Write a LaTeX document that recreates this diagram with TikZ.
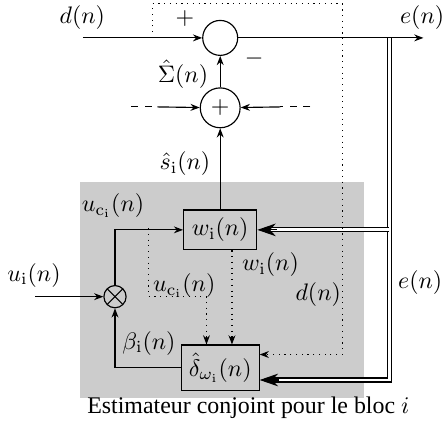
\RequirePackage{fix-cm}
\documentclass[tikz,border=0pt]{standalone}
\usepackage[no-math]{fontspec}
\setmainfont{Liberation Serif}
\usepackage{amsmath,amssymb}
\usepackage{xcolor}
\usepackage{tikz}
\usetikzlibrary{arrows.meta,positioning}
\definecolor{panel}{RGB}{204,204,204}

\begin{document}
\begin{tikzpicture}[
  line width=0.5pt,
  every node/.style={font=\fontsize{10.4}{12.5}\selectfont},
  sumnode/.style={draw,circle,inner sep=0pt},
  blockbox/.style={draw,minimum width=1.12cm,minimum height=0.61cm,inner sep=1pt},
  arr/.style={-{Stealth[length=4pt,width=3pt]}},
  dotarr/.style={dotted,-{Stealth[length=4pt,width=3pt]}},
  dbl/.style={double,double distance=1.2pt,shorten >=6pt},
  dbltip/.style={-{Stealth[length=8pt,width=5.5pt,inset=2.5pt]}}
]
  \useasboundingbox (-3.37,-5.91) rectangle (3.44,0.58);
  % panel of the estimator
  \fill[panel] (-2.14,-2.20) rectangle (2.20,-5.51);
  \node[anchor=center] (caption) at (0.43,-5.66) {Estimateur conjoint pour le bloc $i$};

  \node[sumnode,minimum size=0.535cm] (sum) at (0,0) {};
  \node[sumnode,minimum size=0.61cm,below=0.48cm of sum] (adder) {$+$};
  \node[blockbox,below=1.24cm of adder] (w) {$w_{\mathrm{i}}(n)$};
  \node[blockbox,minimum width=1.19cm,minimum height=0.69cm,below=1.44cm of w] (delta) {$\hat{\delta}_{\omega_{\mathrm{i}}}(n)$};
  \node[sumnode,minimum size=0.34cm,path picture={
      \draw (path picture bounding box.north west) -- (path picture bounding box.south east);
      \draw (path picture bounding box.north east) -- (path picture bounding box.south west);}] (mult) at (-1.61,-3.96) {};

  \coordinate (din) at (-2.10,0);
  \coordinate (eout) at (3.11,0);
  \coordinate (etap) at (2.59,0);
  \coordinate (dtap) at (-1.04,0);
  \coordinate (dcorner) at (1.87,0.52);
  \coordinate (uin) at (-2.83,-3.96);
  \coordinate (ucit) at (-1.10,-2.91);
  \coordinate (ucib) at (-0.21,-3.96);
  \coordinate (lin) at (-1.36,-1.056);
  \coordinate (lmid) at (-0.96,-1.056);
  \coordinate (rin) at (1.38,-1.056);
  \coordinate (rmid) at (0.92,-1.056);

  % error fed back
  \draw[dbl] (etap) |- ([yshift=-0.19cm]delta.east);
  \draw[dbl] (etap |- w.east) -- (w.east);
  \draw[dbltip] ([xshift=8.5pt,yshift=-0.19cm]delta.east) -- ([yshift=-0.19cm]delta.east);
  \draw[dbltip] ([xshift=8.5pt]w.east) -- (w.east);
  % main path
  \draw[arr] (din) -- (sum);
  \draw[arr] (sum) -- (eout);
  \draw[arr] (adder) -- (sum);
  \draw[arr] (w) -- (adder);
  \draw[dashed] (lin) -- (lmid);
  \draw[arr] (lmid) -- (adder);
  \draw[dashed] (rin) -- (rmid);
  \draw[arr] (rmid) -- (adder);
  % estimator
  \draw[arr] (uin) -- (mult);
  \draw[arr] (mult) |- (w.west);
  \draw[arr] (delta.west) -| (mult);
  \draw[dotarr] (ucit) |- (ucib) -- (ucib |- delta.north);
  \draw[dotarr] ([xshift=0.18cm]w.south) -- ([xshift=0.18cm]delta.north);
  \draw[dotarr] (dtap) |- (dcorner) |- ([yshift=0.2cm]delta.east);

  % labels
  \node (ld) at (-2.11,0.31) {$d(n)$};
  \node (le) at (3.09,0.31) {$e(n)$};
  \node (lplus) at (-0.54,0.29) {$+$};
  \node (lminus) at (0.52,-0.31) {$-$};
  \node (lsig) at (-0.57,-0.55) {$\hat{\Sigma}(n)$};
  \node (ls) at (-0.54,-1.93) {$\hat{s}_{\mathrm{i}}(n)$};
  \node (luc) at (-1.64,-2.57) {$u_{\mathrm{c}_{\mathrm{i}}}(n)$};
  \node (lui) at (-2.85,-3.63) {$u_{\mathrm{i}}(n)$};
  \node (luc2) at (-0.55,-3.79) {$u_{\mathrm{c}_{\mathrm{i}}}(n)$};
  \node (lw) at (0.77,-3.47) {$w_{\mathrm{i}}(n)$};
  \node (ld2) at (1.50,-3.92) {$d(n)$};
  \node (lbeta) at (-1.09,-4.67) {$\beta_{\mathrm{i}}(n)$};
  \node (le2) at (3.06,-3.75) {$e(n)$};
\end{tikzpicture}
\end{document}
